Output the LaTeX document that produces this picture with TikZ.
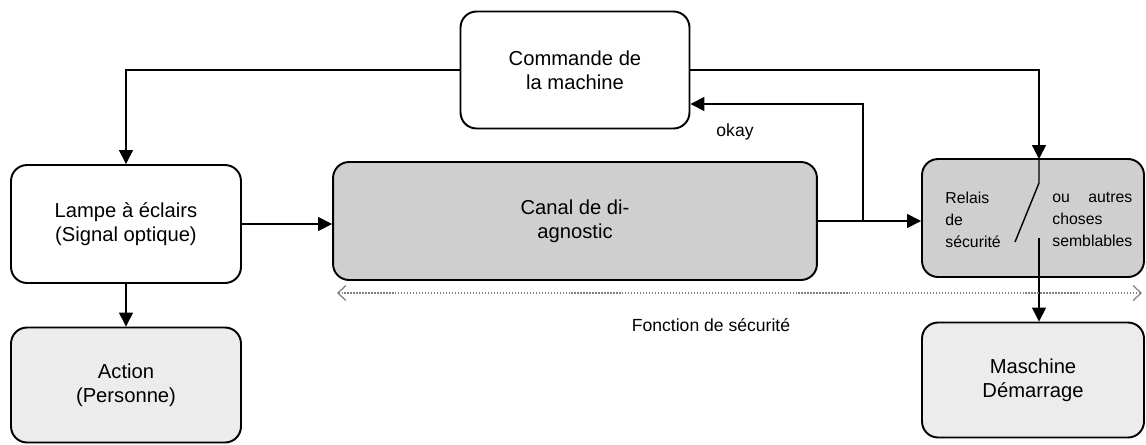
\documentclass[tikz,border=0pt]{standalone}
\usepackage{fontspec}
\setmainfont{Liberation Sans}
\usetikzlibrary{arrows.meta}

\begin{document}
\begin{tikzpicture}[
  x=0.02cm, y=-0.02cm,
  font=\fontsize{11.5}{13.8}\selectfont,
  box/.style={draw, rounded corners=0.32cm, line width=1.1pt, align=center,
              minimum width=4.6cm, minimum height=2.36cm},
  small/.style={font=\fontsize{9}{12.5}\selectfont, inner sep=0pt},
  lbl/.style={font=\fontsize{10}{12}\selectfont},
  arr/.style={-{Triangle[length=2.8mm, width=2.8mm]}, line width=0.8pt},
  wire/.style={line width=0.8pt},
  fsarr/.style={{Straight Barb[length=1.6mm, width=3mm]}-{Straight Barb[length=1.6mm, width=3mm]},
                densely dotted, line width=0.7pt, gray}
]
  \useasboundingbox (0,0) rectangle (1146,444);

  \node[box, minimum width=4.58cm, minimum height=2.34cm] (cmd) at (575,70) {Commande de\\la machine};
  \node[box] (lampe) at (126,224) {Lampe à éclairs\\(Signal optique)};
  \node[box, fill=gray!15, minimum height=2.3cm] (action) at (126,385) {Action\\(Personne)};
  \node[box, fill=gray!38, minimum width=9.68cm] (canal) at (575,221) {Canal de di-\\agnostic};
  \node[box, fill=gray!38, minimum width=4.44cm] (relais) at (1033,218) {};
  \node[box, fill=gray!15, minimum width=4.44cm, minimum height=2.3cm] (maschine) at (1033,380) {Maschine\\Démarrage};

  % texte du relais, deux colonnes
  \node[small, anchor=west, align=left] (relaisL) at (945,220) {Relais\\de\\sécurité};
  \node[small, anchor=west] (relaisR) at (1052,220)
    {\begin{tabular}{@{}l@{}}ou\hfill autres\\choses\\semblables\end{tabular}};

  % contact
  \coordinate (swtop) at (1039,159);
  \coordinate (hinge) at (1039,183);
  \coordinate (blade) at (1015,242);
  \coordinate (swout) at (1039,238);
  \coordinate (br) at (863,221);
  \coordinate (okin) at ([yshift=-0.68cm]cmd.east);

  \draw[arr] (cmd.west) -| (lampe.north);
  \draw[arr] (cmd.east) -| (swtop);
  \draw[wire] (swtop) -- (hinge) -- (blade);
  \draw[arr] (swout) -- (swout |- maschine.north);
  \draw[arr] (lampe.south) -- (action.north);
  \draw[arr] (lampe.east) -- (lampe.east -| canal.west);
  \draw[arr] (canal.east) -- (canal.east -| relais.west);
  \draw[arr] (br) |- (okin);
  \node[lbl] (okay) at (735,132) {okay};

  \coordinate (fsL) at (337,293);
  \coordinate (fsR) at (1142,293);
  \draw[fsarr] (fsL) -- (fsR);
  \node[lbl] (fonction) at (711,325) {Fonction de sécurité};
\end{tikzpicture}
\end{document}
